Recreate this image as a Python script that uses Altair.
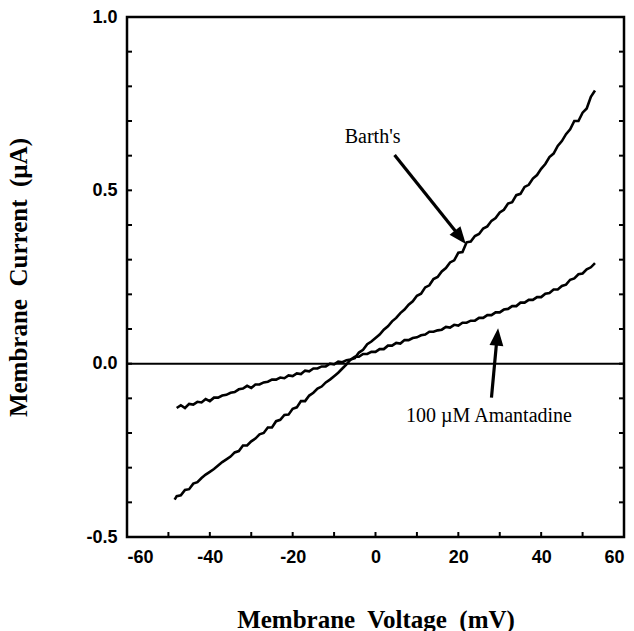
import altair as alt
import pandas as pd

# ---- data ----
barth_v = [-48.5] + list(range(-48, 54))
barth_i = [-0.392, -0.382, -0.380, -0.364, -0.362, -0.346, -0.342, -0.330, -0.320, -0.312,
           -0.304, -0.294, -0.284, -0.276, -0.268, -0.256, -0.252, -0.236, -0.236, -0.224,
           -0.216, -0.204, -0.200, -0.184, -0.184, -0.166, -0.162, -0.148, -0.147, -0.130,
           -0.126, -0.108, -0.108, -0.092, -0.084, -0.072, -0.066, -0.054, -0.046, -0.036,
           -0.026, -0.014, -0.002, 0.012, 0.016, 0.032, 0.040, 0.056, 0.064, 0.074,
           0.084, 0.098, 0.108, 0.122, 0.132, 0.146, 0.156, 0.170, 0.180, 0.196,
           0.202, 0.220, 0.226, 0.244, 0.250, 0.266, 0.276, 0.292, 0.298, 0.320,
           0.322, 0.350, 0.352, 0.368, 0.374, 0.390, 0.396, 0.412, 0.420, 0.436,
           0.444, 0.462, 0.466, 0.486, 0.490, 0.510, 0.516, 0.534, 0.544, 0.562,
           0.576, 0.596, 0.606, 0.628, 0.642, 0.662, 0.676, 0.700, 0.700, 0.724,
           0.736, 0.770, 0.788]

aman_v = list(range(-48, 54))
aman_i = [-0.128, -0.120, -0.128, -0.116, -0.118, -0.110, -0.112, -0.102, -0.108, -0.098,
          -0.098, -0.092, -0.090, -0.084, -0.082, -0.074, -0.072, -0.064, -0.070, -0.060,
          -0.060, -0.054, -0.052, -0.046, -0.046, -0.040, -0.042, -0.034, -0.036, -0.028,
          -0.030, -0.020, -0.022, -0.014, -0.014, -0.008, -0.008, 0.000, -0.002, 0.006,
          0.004, 0.010, 0.012, 0.020, 0.020, 0.028, 0.028, 0.034, 0.034, 0.042,
          0.042, 0.052, 0.052, 0.060, 0.058, 0.068, 0.068, 0.074, 0.076, 0.082,
          0.084, 0.092, 0.092, 0.096, 0.098, 0.106, 0.104, 0.112, 0.110, 0.118,
          0.118, 0.124, 0.124, 0.132, 0.132, 0.140, 0.140, 0.148, 0.148, 0.156,
          0.158, 0.166, 0.166, 0.176, 0.176, 0.184, 0.184, 0.192, 0.192, 0.202,
          0.204, 0.214, 0.214, 0.224, 0.228, 0.242, 0.246, 0.258, 0.260, 0.272,
          0.278, 0.290]

x_major = [-60, -40, -20, 0, 20, 40, 60]
x_ticks = [-50, -40, -30, -20, -10, 0, 10, 20, 30, 40, 50]
y_major = [-0.5, 0.0, 0.5, 1.0]
y_ticks = [-0.4, -0.3, -0.2, -0.1, 0.0, 0.1, 0.2, 0.3, 0.4, 0.5, 0.6, 0.7, 0.8, 0.9]

labels = ["Barth's", "100 \u00b5M Amantadine"]
label_v = [-0.7, 27.4]
label_i = [0.637, -0.167]

arrow_id = ["a", "a", "b", "b"]
arrow_v = [4.6, 20.0, 28.0, 29.3]
arrow_i = [0.602, 0.372, -0.098, 0.070]
head_v = [21.8, 29.6]
head_i = [0.345, 0.102]
head_angle = [141.5, 5.5]

W, H = 497, 520
SP = "\u00a0 "

xs = alt.Scale(domain=[-60, 60], nice=False, zero=False)
ys = alt.Scale(domain=[-0.5, 1.0], nice=False, zero=False)

curves = pd.DataFrame({
    "v": barth_v + aman_v,
    "i": barth_i + aman_i,
    "s": ["Barth"] * len(barth_v) + ["Aman"] * len(aman_v),
})

base = alt.Chart(curves).mark_line(color="black", strokeWidth=2.6, strokeJoin="miter").encode(
    x=alt.X("v:Q", scale=xs,
            axis=alt.Axis(values=x_major, title="Membrane" + SP + "Voltage" + SP + "(mV)",
                          labelExpr="datum.value < 0 ? '-' + format(-datum.value, 'd') : format(datum.value, 'd')",
                          ticks=False, domain=False, grid=False, labelPadding=11,
                          titleX=W / 2, titleY=90, titleBaseline="alphabetic",
                          titleAlign="center")),
    y=alt.Y("i:Q", scale=ys,
            axis=alt.Axis(values=y_major, title="Membrane" + SP + "Current" + SP + "(\u00b5A)",
                          labelExpr="datum.value < 0 ? '-' + format(-datum.value, '.1f') : format(datum.value, '.1f')",
                          ticks=False, domain=False, grid=False, labelPadding=10,
                          titleX=-101, titleY=H / 2, titleAngle=-90,
                          titleBaseline="alphabetic", titleAlign="center")),
    detail="s:N",
)

zero = alt.Chart(pd.DataFrame({"y": [0.0]})).mark_rule(color="black", strokeWidth=2).encode(
    y=alt.Y("y:Q", scale=ys), x=alt.value(0), x2=alt.value(W)
)

xt = alt.Chart(pd.DataFrame({"t": x_ticks})).mark_rule(color="black", strokeWidth=2).encode(
    x=alt.X("t:Q", scale=xs), y=alt.value(H), y2=alt.value(H - 5)
)
ytl = alt.Chart(pd.DataFrame({"t": y_ticks})).mark_rule(color="black", strokeWidth=2).encode(
    y=alt.Y("t:Q", scale=ys), x=alt.value(0), x2=alt.value(5)
)
ytr = alt.Chart(pd.DataFrame({"t": y_ticks})).mark_rule(color="black", strokeWidth=2).encode(
    y=alt.Y("t:Q", scale=ys), x=alt.value(W), x2=alt.value(W - 5)
)

txt = alt.Chart(pd.DataFrame({"l": labels, "v": label_v, "i": label_i})).mark_text(
    font="Liberation Serif", fontSize=20, color="black", align="center", baseline="alphabetic"
).encode(x=alt.X("v:Q", scale=xs), y=alt.Y("i:Q", scale=ys), text="l:N")

arr = alt.Chart(pd.DataFrame({"g": arrow_id, "v": arrow_v, "i": arrow_i})).mark_line(
    color="black", strokeWidth=3.2
).encode(x=alt.X("v:Q", scale=xs), y=alt.Y("i:Q", scale=ys), detail="g:N")

heads = alt.Chart(pd.DataFrame({"v": head_v, "i": head_i, "a": head_angle})).mark_point(
    shape="M0,0 L-0.8,2 L0.8,2 Z", filled=True, color="black", opacity=1, size=300
).encode(x=alt.X("v:Q", scale=xs), y=alt.Y("i:Q", scale=ys),
         angle=alt.Angle("a:Q", scale=None))

chart = alt.layer(base, zero, xt, ytl, ytr, arr, heads, txt).properties(
    width=W, height=H,
    autosize=alt.AutoSizeParams(type="none"),
    padding={"left": 127, "top": 17, "right": 10, "bottom": 94},
    background="white",
).configure_view(stroke="black", strokeWidth=2.5).configure_axis(
    labelFont="Liberation Sans", labelFontWeight="bold", labelFontSize=18, labelColor="black",
    titleFont="Liberation Serif", titleFontWeight="bold", titleFontSize=25, titleColor="black",
)

chart.save("out.html", embed_options={"renderer": "svg", "actions": False})
